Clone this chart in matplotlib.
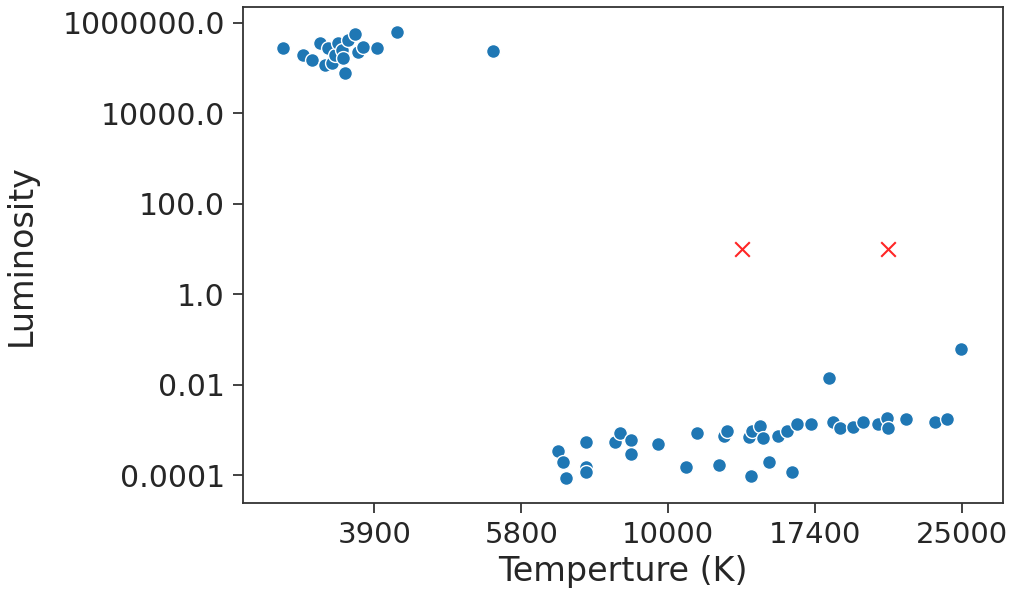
import numpy as np
import matplotlib
matplotlib.use('Agg')
import matplotlib.pyplot as plt

# ─── Données ──────────────────────────────────────────────
# Géantes / supergéantes (haut à gauche)
giant_temp = [2724, 2982, 3091, 3198, 3263, 3305, 3349, 3392, 3435, 3479,
              3499, 3521, 3564, 3651, 3693, 3758, 3931, 4190, 5430]
giant_lum = [277000, 197000, 153000, 357000, 119000, 277000, 129000, 197000,
             357000, 254000, 167000, 78000, 423000, 564000, 226000, 301000,
             277000, 624000, 245000]

# Naines blanches (bas à droite)
dwarf_temp = [6857, 7000, 7069, 7649, 7649, 7649, 8477, 8620, 8934, 8934,
              9714, 10876, 11430, 12567, 12804, 12940, 14148, 14078, 14198,
              14616, 14752, 15084, 15537, 15990, 16242, 16464, 17168, 18093,
              18331, 18677, 19365, 19851, 20657, 21122, 21174, 22089, 23589,
              24193, 24917]
dwarf_lum = [3.43e-4, 1.91e-4, 8.6e-5, 5.33e-4, 1.55e-4, 1.16e-4, 5.33e-4,
             8.73e-4, 6.0e-4, 2.94e-4, 4.82e-4, 1.5e-4, 8.41e-4, 1.69e-4,
             7.48e-4, 9.46e-4, 9.66e-5, 7.11e-4, 9.46e-4, 1.24e-3, 6.53e-4,
             1.91e-4, 7.48e-4, 9.46e-4, 1.2e-4, 1.33e-3, 1.33e-3, 0.0137,
             1.52e-3, 1.08e-3, 1.18e-3, 1.52e-3, 1.35e-3, 1.8e-3, 1.12e-3,
             1.71e-3, 1.52e-3, 1.74e-3, 0.0605]

# Points testés (croix rouges)
test_temp = [13725, 21143]
test_lum = [10.0, 10.0]

# Axes
x_ticks = [3900, 5800, 10000, 17400, 25000]
x_labels = ['3900', '5800', '10000', '17400', '25000']
y_ticks = [1e-4, 1e-2, 1.0, 100.0, 1e4, 1e6]
y_labels = ['0.0001', '0.01', '1.0', '100.0', '10000.0', '1000000.0']
# ──────────────────────────────────────────────────────────

TICK_T = np.array(x_ticks, float)
IDX = np.arange(len(TICK_T), dtype=float)


def forward(t):
    """Température -> position (ticks équidistants, linéaire par morceaux)."""
    t = np.asarray(t, float)
    u = np.interp(t, TICK_T, IDX)
    u = np.where(t < TICK_T[0], (t - TICK_T[0]) / (TICK_T[1] - TICK_T[0]), u)
    u = np.where(t > TICK_T[-1],
                 IDX[-1] + (t - TICK_T[-1]) / (TICK_T[-1] - TICK_T[-2]), u)
    return u


def inverse(u):
    u = np.asarray(u, float)
    t = np.interp(u, IDX, TICK_T)
    t = np.where(u < 0, TICK_T[0] + u * (TICK_T[1] - TICK_T[0]), t)
    t = np.where(u > IDX[-1],
                 TICK_T[-1] + (u - IDX[-1]) * (TICK_T[-1] - TICK_T[-2]), t)
    return t


fig = plt.figure(figsize=(10.15, 5.99), dpi=100)
ax = fig.add_axes([0.2394, 0.1603, 0.7488, 0.828])

ax.set_xscale('function', functions=(forward, inverse))
ax.set_yscale('log')

blue = '#1f77b4'
ax.scatter(giant_temp + dwarf_temp, giant_lum + dwarf_lum, s=100, color=blue,
           edgecolor='white', linewidth=1.0, zorder=3)
ax.scatter(test_temp, test_lum, s=110, marker='x', color='red',
           linewidth=1.5, alpha=0.85, zorder=4)

ax.set_xlim(2203, 27104)
ax.set_ylim(2.42e-5, 2.25e6)

ax.set_xticks(x_ticks, labels=x_labels)
ax.set_yticks(y_ticks, labels=y_labels)
ax.xaxis.set_minor_locator(matplotlib.ticker.NullLocator())
ax.yaxis.set_minor_locator(matplotlib.ticker.NullLocator())

ax.tick_params(labelsize=21, length=7, width=1.3, color='#333333',
               labelcolor='#262626', pad=6)
ax.tick_params(axis='y', labelsize=21.5)
for sp in ax.spines.values():
    sp.set_linewidth(1.3)
    sp.set_color('#333333')

ax.set_xlabel('Temperture (K)', fontsize=24, color='#262626', labelpad=4)
ax.set_ylabel('Luminosity', fontsize=24, color='#262626', labelpad=18)

plt.savefig('out.png', dpi=100)
plt.close()
